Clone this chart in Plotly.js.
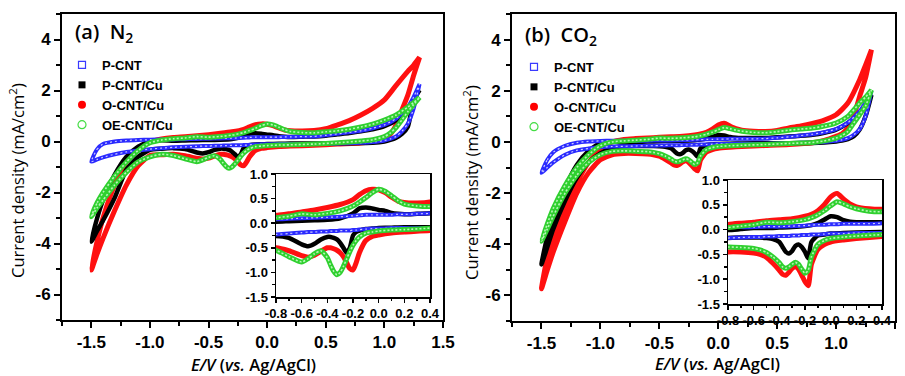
<!DOCTYPE html>
<html><head><meta charset="utf-8">
<script src="https://cdn.plot.ly/plotly-3.0.1.min.js"></script>
<style>html,body{margin:0;padding:0;background:#fff}#chart{width:905px;height:376px}</style>
</head><body><div id="chart"></div>
<script>
// Potential grids (V vs Ag/AgCl): anodic (upper) branch and cathodic (lower) branch
const E_UP = [-1.5,-1.45,-1.4,-1.3,-1.2,-1.1,-1.0,-0.9,-0.8,-0.7,-0.6,-0.5,-0.4,-0.3,-0.2,-0.15,-0.1,-0.05,0,0.05,0.1,0.15,0.2,0.3,0.4,0.5,0.6,0.7,0.8,0.9,1.0,1.1,1.2,1.25,1.3];
const E_DN = [1.3,1.25,1.2,1.15,1.1,1.05,1.0,0.9,0.8,0.6,0.4,0.2,0.1,0,-0.05,-0.1,-0.15,-0.175,-0.2,-0.225,-0.25,-0.275,-0.3,-0.325,-0.35,-0.375,-0.4,-0.45,-0.5,-0.55,-0.6,-0.7,-0.8,-0.9,-1.0,-1.1,-1.2,-1.3,-1.4,-1.45,-1.5];

// (a) N2
const A_PCNT_UP = [-0.79,-0.3,-0.1,0.0,0.04,0.06,0.07,0.08,0.08,0.09,0.1,0.11,0.12,0.13,0.15,0.16,0.17,0.17,0.17,0.17,0.17,0.18,0.18,0.19,0.2,0.24,0.3,0.36,0.42,0.52,0.65,0.9,1.35,1.75,2.25];
const A_PCNT_DN = [2.25,1.3,0.7,0.4,0.2,0.1,0.04,-0.02,-0.05,-0.08,-0.1,-0.1,-0.1,-0.11,-0.11,-0.12,-0.13,-0.14,-0.14,-0.15,-0.15,-0.15,-0.15,-0.16,-0.16,-0.16,-0.17,-0.17,-0.18,-0.18,-0.19,-0.21,-0.23,-0.26,-0.3,-0.35,-0.41,-0.5,-0.62,-0.7,-0.79];
const A_PCNTCU_UP = [-3.93,-3.0,-2.3,-1.3,-0.6,-0.2,0.0,0.05,0.03,0.04,0.05,0.06,0.07,0.1,0.2,0.3,0.32,0.3,0.27,0.25,0.21,0.19,0.18,0.19,0.2,0.23,0.28,0.33,0.4,0.48,0.6,0.84,1.31,1.65,2.02];
const A_PCNTCU_DN = [2.02,1.63,0.58,0.3,0.15,0.06,0.0,-0.05,-0.06,-0.07,-0.08,-0.08,-0.09,-0.1,-0.11,-0.12,-0.15,-0.18,-0.25,-0.5,-0.6,-0.5,-0.4,-0.33,-0.3,-0.28,-0.28,-0.33,-0.42,-0.47,-0.43,-0.3,-0.26,-0.28,-0.33,-0.6,-1.1,-2.2,-3.1,-3.5,-3.93];
const A_OCNTCU_UP = [-5.04,-3.9,-3.0,-1.7,-0.8,-0.3,-0.02,0.1,0.16,0.19,0.23,0.27,0.32,0.38,0.48,0.58,0.66,0.69,0.68,0.62,0.53,0.45,0.42,0.41,0.43,0.5,0.65,0.82,1.04,1.3,1.63,2.2,2.75,3.0,3.3];
const A_OCNTCU_DN = [3.3,2.6,1.82,1.24,0.65,0.28,0.12,0.0,-0.06,-0.1,-0.15,-0.18,-0.2,-0.24,-0.27,-0.35,-0.6,-0.8,-0.95,-0.92,-0.8,-0.68,-0.6,-0.55,-0.52,-0.5,-0.5,-0.57,-0.65,-0.69,-0.66,-0.56,-0.5,-0.52,-0.55,-0.95,-1.7,-2.7,-3.8,-4.4,-5.04];
const A_OECNTCU_UP = [-2.95,-2.4,-2.0,-1.35,-0.8,-0.35,-0.05,0.06,0.11,0.14,0.19,0.17,0.2,0.25,0.35,0.43,0.52,0.62,0.69,0.65,0.56,0.46,0.39,0.35,0.34,0.38,0.42,0.48,0.57,0.68,0.84,1.04,1.35,1.53,1.73];
const A_OECNTCU_DN = [1.73,1.45,1.17,0.85,0.55,0.33,0.19,0.07,0.02,-0.05,-0.1,-0.13,-0.14,-0.16,-0.18,-0.2,-0.28,-0.35,-0.45,-0.58,-0.73,-0.88,-1.0,-1.05,-0.98,-0.85,-0.7,-0.56,-0.62,-0.72,-0.79,-0.68,-0.55,-0.5,-0.6,-0.8,-1.2,-1.7,-2.3,-2.6,-2.95];

// (b) CO2
const B_PCNT_UP = [-1.21,-0.7,-0.4,-0.15,-0.03,0.02,0.04,0.05,0.05,0.05,0.05,0.06,0.06,0.07,0.08,0.09,0.1,0.1,0.11,0.11,0.12,0.12,0.12,0.12,0.13,0.16,0.2,0.25,0.3,0.38,0.5,0.75,1.2,1.55,2.0];
const B_PCNT_DN = [2.0,1.0,0.5,0.28,0.15,0.08,0.04,0.0,-0.02,-0.05,-0.07,-0.07,-0.08,-0.08,-0.09,-0.1,-0.1,-0.11,-0.11,-0.11,-0.12,-0.12,-0.12,-0.13,-0.13,-0.13,-0.13,-0.14,-0.14,-0.15,-0.15,-0.16,-0.17,-0.18,-0.21,-0.26,-0.33,-0.5,-0.8,-1.0,-1.21];
const B_PCNTCU_UP = [-4.79,-3.7,-3.0,-1.8,-0.9,-0.35,-0.05,0.03,-0.01,0.01,0.03,0.03,0.04,0.05,0.07,0.09,0.13,0.2,0.27,0.25,0.19,0.16,0.15,0.15,0.15,0.18,0.21,0.24,0.28,0.36,0.48,0.74,1.13,1.45,1.84];
const B_PCNTCU_DN = [1.84,1.0,0.48,0.22,0.11,0.05,0.02,-0.02,-0.04,-0.05,-0.05,-0.06,-0.07,-0.08,-0.1,-0.12,-0.25,-0.58,-0.45,-0.35,-0.3,-0.33,-0.43,-0.48,-0.45,-0.35,-0.25,-0.19,-0.17,-0.16,-0.16,-0.16,-0.17,-0.23,-0.45,-0.8,-1.4,-2.3,-3.4,-4.1,-4.79];
const B_OCNTCU_UP = [-5.74,-4.5,-3.8,-2.6,-1.6,-0.8,-0.3,0.0,0.1,0.13,0.15,0.18,0.2,0.22,0.27,0.31,0.38,0.5,0.66,0.73,0.62,0.52,0.46,0.42,0.41,0.45,0.55,0.62,0.72,0.85,1.06,1.52,2.43,3.0,3.6];
const B_OCNTCU_DN = [3.6,2.5,1.78,1.0,0.54,0.32,0.22,0.06,-0.03,-0.1,-0.14,-0.18,-0.21,-0.25,-0.3,-0.4,-0.7,-1.13,-1.05,-0.92,-0.8,-0.74,-0.78,-0.86,-0.92,-0.9,-0.82,-0.68,-0.56,-0.5,-0.47,-0.45,-0.45,-0.5,-0.7,-1.2,-2.0,-3.1,-4.3,-5.0,-5.74];
const B_OECNTCU_UP = [-3.88,-3.2,-2.6,-1.7,-1.0,-0.5,-0.15,0.0,0.04,0.07,0.1,0.15,0.14,0.16,0.2,0.24,0.3,0.38,0.48,0.56,0.52,0.46,0.42,0.37,0.36,0.4,0.46,0.5,0.54,0.62,0.74,1.0,1.52,1.75,2.03];
const B_OECNTCU_DN = [2.03,1.4,1.06,0.74,0.41,0.25,0.15,0.04,-0.02,-0.06,-0.1,-0.13,-0.15,-0.18,-0.22,-0.3,-0.55,-0.82,-0.88,-0.8,-0.7,-0.66,-0.7,-0.75,-0.78,-0.75,-0.67,-0.55,-0.46,-0.41,-0.38,-0.36,-0.35,-0.37,-0.5,-0.8,-1.3,-2.0,-2.9,-3.4,-3.88];

const SERIES_NAMES = ['P-CNT','P-CNT/Cu','O-CNT/Cu','OE-CNT/Cu'];
const PANEL_LABELS = ['(a)  N<sub>2</sub>','(b)  CO<sub>2</sub>'];
const X_TITLE = '<i>E/V</i> (<i>vs.</i> Ag/AgCl)';
const Y_TITLE = 'Current density (mA/cm<sup>2</sup>)';
const MAIN_X_TICKS = [-1.5,-1.0,-0.5,0,0.5,1.0,1.5];
const MAIN_X_MINOR = [-1.75,-1.25,-0.75,-0.25,0.25,0.75,1.25];
const MAIN_Y_TICKS = [-6,-4,-2,0,2,4];
const MAIN_Y_MINOR = [-7,-5,-3,-1,1,3,5];
const INSET_X_TICKS = [-0.8,-0.6,-0.4,-0.2,0,0.2,0.4];
const INSET_X_MINOR = [-0.7,-0.5,-0.3,-0.1,0.1,0.3];
const INSET_Y_TICKS = [-1.5,-1.0,-0.5,0,0.5,1.0];
const INSET_Y_MINOR = [-1.25,-0.75,-0.25,0.25,0.75];

const panels = [
  {data: {'P-CNT':[A_PCNT_UP,A_PCNT_DN],'P-CNT/Cu':[A_PCNTCU_UP,A_PCNTCU_DN],'O-CNT/Cu':[A_OCNTCU_UP,A_OCNTCU_DN],'OE-CNT/Cu':[A_OECNTCU_UP,A_OECNTCU_DN]},
   main:['x','y'], inset:['x2','y2'], legend:'legend'},
  {data: {'P-CNT':[B_PCNT_UP,B_PCNT_DN],'P-CNT/Cu':[B_PCNTCU_UP,B_PCNTCU_DN],'O-CNT/Cu':[B_OCNTCU_UP,B_OCNTCU_DN],'OE-CNT/Cu':[B_OECNTCU_UP,B_OECNTCU_DN]},
   main:['x3','y3'], inset:['x4','y4'], legend:'legend2'}
];

const lineStyles = {
  'O-CNT/Cu': [{color:'#ff1010', width:5}],
  'P-CNT/Cu': [{color:'#000000', width:4.5}],
  'P-CNT': [{color:'#2a2aff', width:4}, {color:'#c9c9ff', width:1.2, dash:'2px,3px'}],
  'OE-CNT/Cu': [{color:'#2fd02f', width:5}, {color:'#b6f6b6', width:1.6, dash:'2px,2px'}]
};
const legendMarkers = {
  'P-CNT': {symbol:'square-open', color:'#3a3aff', size:7, line:{width:1.2, color:'#3a3aff'}},
  'P-CNT/Cu': {symbol:'square', color:'#000', size:7},
  'O-CNT/Cu': {symbol:'circle', color:'#ff0000', size:8},
  'OE-CNT/Cu': {symbol:'circle-open', color:'#44dd44', size:8, line:{width:1.2, color:'#44dd44'}}
};
const drawOrder = ['O-CNT/Cu','P-CNT/Cu','P-CNT','OE-CNT/Cu'];

const traces = [];
const loopX = E_UP.concat(E_DN);
panels.forEach(p => {
  [p.main, p.inset].forEach(ax => {
    drawOrder.forEach(name => {
      const [up, dn] = p.data[name];
      const y = up.concat(dn);
      lineStyles[name].forEach(ls => {
        traces.push({x: loopX, y: y, xaxis: ax[0], yaxis: ax[1], mode:'lines',
          line: Object.assign({shape:'spline', smoothing:0.6}, ls), showlegend:false, hoverinfo:'skip'});
      });
    });
  });
  SERIES_NAMES.forEach(name => {
    traces.push({x:[null], y:[null], xaxis:p.main[0], yaxis:p.main[1], mode:'markers', name:name,
      marker: legendMarkers[name], legend: p.legend, showlegend:true});
  });
});

const W = 905, H = 376;
const tickFont = {family:'Liberation Sans, Arial, sans-serif', size:17, weight:'bold', color:'#000'};
const insetFont = {family:'Liberation Sans, Arial, sans-serif', size:13, weight:'bold', color:'#000'};
function fmt1(v){ return v.toFixed(1); }
function xdom(l, r){ return [l/W, r/W]; }
function ydom(top, bottom){ return [1 - bottom/H, 1 - top/H]; }

function mainX(dom, anchor){
  return {domain:dom, anchor:anchor, range:[-1.75,1.5], tickmode:'array', tickvals:MAIN_X_TICKS, ticktext:MAIN_X_TICKS.map(fmt1),
    ticks:'outside', ticklen:6, tickwidth:2, tickcolor:'#000', showline:true, linewidth:2, linecolor:'#000', mirror:true,
    showgrid:false, zeroline:false, tickfont:tickFont,
    minor:{tickmode:'array', tickvals:MAIN_X_MINOR, ticks:'outside', ticklen:4, tickwidth:2, tickcolor:'#000', showgrid:false}};
}
function mainY(dom, anchor){
  return {domain:dom, anchor:anchor, range:[-7,5], tickmode:'array', tickvals:MAIN_Y_TICKS, ticktext:MAIN_Y_TICKS.map(String),
    ticks:'outside', ticklen:6, tickwidth:2, tickcolor:'#000', showline:true, linewidth:2, linecolor:'#000', mirror:true,
    showgrid:false, zeroline:false, tickfont:tickFont,
    minor:{tickmode:'array', tickvals:MAIN_Y_MINOR, ticks:'outside', ticklen:4, tickwidth:2, tickcolor:'#000', showgrid:false}};
}
function insetX(dom, anchor){
  return {domain:dom, anchor:anchor, range:[-0.8,0.4], tickmode:'array', tickvals:INSET_X_TICKS, ticktext:INSET_X_TICKS.map(fmt1),
    ticks:'outside', ticklen:4, tickwidth:1.5, tickcolor:'#000', showline:true, linewidth:1.5, linecolor:'#000', mirror:true,
    showgrid:false, zeroline:false, tickfont:insetFont,
    minor:{tickmode:'array', tickvals:INSET_X_MINOR, ticks:'outside', ticklen:2.5, tickwidth:1.5, tickcolor:'#000', showgrid:false}};
}
function insetY(dom, anchor){
  return {domain:dom, anchor:anchor, range:[-1.5,1.0], tickmode:'array', tickvals:INSET_Y_TICKS, ticktext:INSET_Y_TICKS.map(fmt1),
    ticks:'outside', ticklen:4, tickwidth:1.5, tickcolor:'#000', showline:true, linewidth:1.5, linecolor:'#000', mirror:true,
    showgrid:false, zeroline:false, tickfont:insetFont,
    minor:{tickmode:'array', tickvals:INSET_Y_MINOR, ticks:'outside', ticklen:2.5, tickwidth:1.5, tickcolor:'#000', showgrid:false}};
}

const legendBase = {xanchor:'left', yanchor:'top', bgcolor:'rgba(0,0,0,0)', borderwidth:0, tracegroupgap:0, itemwidth:30,
  font:{family:'Liberation Sans, Arial, sans-serif', size:13, weight:'bold', color:'#000'}};

function ann(text, x, y, font, extra){
  return Object.assign({text:text, xref:'paper', yref:'paper', x:x/W, y:1-y/H, xanchor:'center', yanchor:'middle', showarrow:false, font:font}, extra||{});
}
const labelFont = {family:'Open Sans, sans-serif', size:20, weight:600, color:'#000'};
const xTitleFont = {family:'Open Sans, sans-serif', size:16.5, weight:600, color:'#000'};
const yTitleFont = {family:'Open Sans, sans-serif', size:16.5, color:'#000'};

const layout = {
  width:W, height:H, margin:{l:0,r:0,t:0,b:0}, paper_bgcolor:'#fff', plot_bgcolor:'#fff', showlegend:true,
  xaxis: mainX(xdom(62,443),'y'), yaxis: mainY(ydom(14,320),'x'),
  xaxis2: insetX(xdom(276,430),'y2'), yaxis2: insetY(ydom(174,297),'x2'),
  xaxis3: mainX(xdom(512,895),'y3'), yaxis3: mainY(ydom(14,321),'x3'),
  xaxis4: insetX(xdom(728,882),'y4'), yaxis4: insetY(ydom(180,304),'x4'),
  legend: Object.assign({x:62/W, y:1-50/H}, legendBase),
  legend2: Object.assign({x:514/W, y:1-52/H}, legendBase),
  annotations: [
    ann(PANEL_LABELS[0], 73, 33, labelFont, {xanchor:'left'}),
    ann(PANEL_LABELS[1], 523, 35, labelFont, {xanchor:'left'}),
    ann(X_TITLE, 253, 364, xTitleFont),
    ann(X_TITLE, 717, 363, xTitleFont),
    ann(Y_TITLE, 17, 181, yTitleFont, {textangle:-90}),
    ann(Y_TITLE, 471, 183, yTitleFont, {textangle:-90})
  ]
};

Plotly.newPlot('chart', traces, layout, {staticPlot:true, displayModeBar:false});
</script></body></html>
